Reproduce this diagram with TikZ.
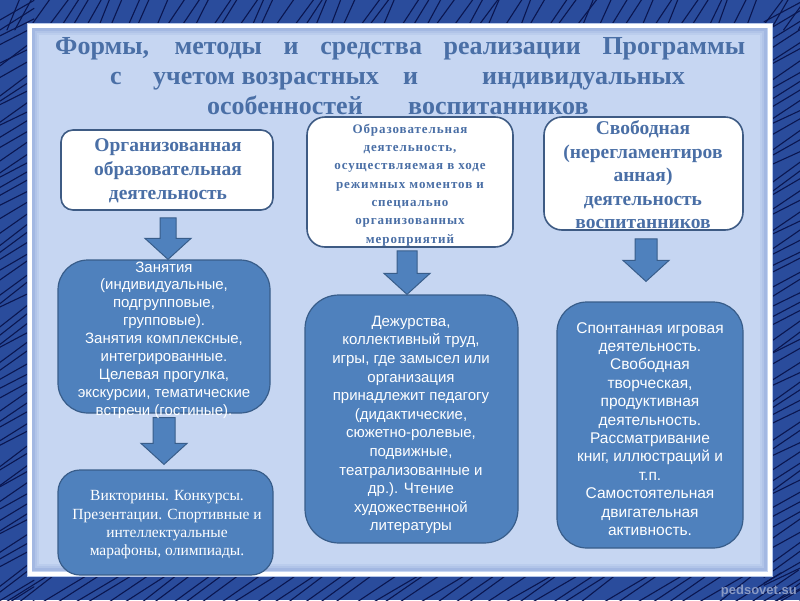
\documentclass[tikz,border=0pt]{standalone}
\usepackage{fontspec}
\setmainfont{Liberation Serif}
\newfontfamily\sansf{Liberation Sans}
\usetikzlibrary{calc}
\definecolor{bgblue}{HTML}{2A4C9C}
\definecolor{scrib}{HTML}{0A1650}
\definecolor{panelfill}{HTML}{C6D6F2}
\definecolor{paneledge}{HTML}{A3B8E2}
\definecolor{titleblue}{HTML}{4A6FA6}
\definecolor{boxline}{HTML}{3E5B84}
\definecolor{blockfill}{HTML}{4F81BD}
\definecolor{blockline}{HTML}{385D8A}
\definecolor{wm}{HTML}{8A9AC4}
\newcommand{\blk}[6]{%
  \draw[blockarrow] let \p1=($(#1.south)+(#3,0)$), \p2=(#2.north) in
  (\x1-#6,\y1-#4) -- (\x1+#6,\y1-#4) -- (\x1+#6,\y2+#5+21pt) -- (\x1+23pt,\y2+#5+21pt)
  -- (\x1,\y2+#5) -- (\x1-23pt,\y2+#5+21pt) -- (\x1-#6,\y2+#5+21pt) -- cycle;}
\begin{document}
\begin{tikzpicture}[x=1pt,y=-1pt,
  scribble/.style={draw=scrib, line width=1.1pt, line cap=round},
  whitebox/.style={draw=boxline, line width=1.6pt, fill=white, rounded corners=#1, inner sep=0pt},
  bluebox/.style={draw=blockline, line width=1.2pt, fill=blockfill, rounded corners=#1, inner sep=0pt},
  blockarrow/.style={draw=blockline, line width=1pt, fill=blockfill},
  wtext/.style={text=titleblue, align=center, inner sep=0pt},
  btext/.style={text=white, align=center, inner sep=0pt},
  ttl/.style={text=titleblue, font=\fontsize{26}{30}\selectfont\bfseries, inner sep=0pt, anchor=base west}]
\useasboundingbox (0,0) rectangle (800,600);
\fill[bgblue] (0,0) rectangle (800,600);
% background scribbles
\pgfmathsetseed{7}
\foreach \i in {0,...,60}{
  \pgfmathsetmacro{\xa}{\i*13.5+8*rnd}
  \pgfmathsetmacro{\dx}{12+14*rnd}
  \draw[scribble] (\xa,30) -- (\xa+\dx,-4);
}
\foreach \i in {0,...,60}{
  \pgfmathsetmacro{\ya}{\i*10+5*rnd}
  \pgfmathsetmacro{\dy}{14+12*rnd}
  \draw[scribble] (-4,\ya+\dy) -- (34,\ya-4);
  \pgfmathsetmacro{\dz}{14+12*rnd}
  \draw[scribble] (764,\ya+\dz) -- (804,\ya-4);
}
\foreach \i in {0,...,50}{
  \pgfmathsetmacro{\xa}{\i*16.5+8*rnd}
  \pgfmathsetmacro{\dy}{16+12*rnd}
  \draw[scribble] (\xa,604) -- (\xa+50,604-\dy-12);
}
% panel
\fill[panelfill] (27,23) rectangle (772,576);
\draw[paneledge, line width=3pt] (33.5,29.5) rectangle (765.5,569.5);
\draw[paneledge!60!panelfill, line width=2pt] (36,32) rectangle (763,567);
\draw[paneledge!30!panelfill, line width=2pt] (38,34) rectangle (761,565);
\draw[white, line width=4pt] (29.5,25.5) rectangle (769.5,573.5);
\draw[paneledge!80!white, line width=0.6pt] (27,23) rectangle (772,576);
% title
\node[ttl] (t1) at (55,54) {\makebox[690pt][s]{Формы, методы и средства реализации Программы}};
\node[ttl] (t2a) at (110,84) {с};
\node[ttl] (t2b) at (153,84) {учетом возрастных};
\node[ttl] (t2c) at (403,84) {и};
\node[ttl] (t2d) at (482,84) {индивидуальных};
\node[ttl] (t3a) at (207,114) {особенностей};
\node[ttl] (t3b) at (408,114) {воспитанников};
% top white boxes
\node[whitebox=12, minimum width=212, minimum height=80] (a) at (167,170) {};
\node[whitebox=18, minimum width=206, minimum height=130] (b) at (410,182) {};
\node[whitebox=18, minimum width=199, minimum height=113] (c) at (643.5,173.5) {};
% blue boxes
\node[bluebox=30, minimum width=212, minimum height=153] (d) at (164,336.5) {};
\node[bluebox=34, minimum width=213, minimum height=248] (e) at (411.5,419) {};
\node[bluebox=30, minimum width=186, minimum height=246] (f) at (650,425) {};
\node[bluebox=22, minimum width=215, minimum height=105] (g) at (165.5,522.5) {};
% arrows
\blk{a}{d}{1}{7pt}{0pt}{8pt}
\blk{b}{e}{-3}{3pt}{0pt}{10pt}
\blk{c}{f}{2.5}{8pt}{20pt}{11pt}
\blk{d}{g}{0}{4pt}{5pt}{11pt}
% texts
\node[wtext, font=\fontsize{19.5}{24}\selectfont\bfseries] (at) at (168,171) {Организованная\\образовательная\\деятельность};
\node[wtext, font=\fontsize{13}{18.3}\selectfont\bfseries\addfontfeature{LetterSpace=7}] (bt) at (410,185) {Образовательная\\деятельность,\\осуществляемая в ходе\\режимных моментов и\\специально\\организованных\\мероприятий};
\node[wtext, font=\fontsize{19.5}{23.5}\selectfont\bfseries] (ct) at (643,175) {Свободная\\(нерегламентиров\\анная)\\деятельность\\воспитанников};
\node[btext, font=\sansf\fontsize{15}{17.9}\selectfont] (dt) at (164,340) {Занятия\\(индивидуальные,\\подгрупповые,\\групповые).\\Занятия комплексные,\\интегрированные.\\Целевая прогулка,\\экскурсии, тематические\\встречи (гостиные).};
\node[btext, font=\sansf\fontsize{15}{18.6}\selectfont] (et) at (411,425) {Дежурства,\\коллективный труд,\\игры, где замысел или\\организация\\принадлежит педагогу\\(дидактические,\\сюжетно-ролевые,\\подвижные,\\театрализованные и\\др.). Чтение\\художественной\\литературы};
\node[btext, font=\sansf\fontsize{15.5}{18.4}\selectfont] (ft) at (650,429) {Спонтанная игровая\\деятельность.\\Свободная\\творческая,\\продуктивная\\деятельность.\\Рассматривание\\книг, иллюстраций и\\т.п.\\Самостоятельная\\двигательная\\активность.};
\node[btext, font=\fontsize{15.5}{18.3}\selectfont] (gt) at (167,525) {Викторины. Конкурсы.\\Презентации. Спортивные и\\интеллектуальные\\марафоны, олимпиады.};
% watermark
\node[font=\sansf\bfseries\fontsize{13}{13}\selectfont, text=wm, anchor=east, inner sep=0pt] (wmk) at (797,591) {pedsovet.su};
\end{tikzpicture}
\end{document}
